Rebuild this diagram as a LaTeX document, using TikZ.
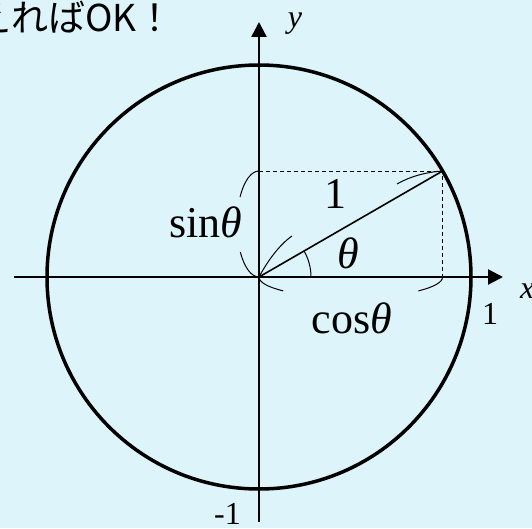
\documentclass[tikz,border=0pt]{standalone}
\usepackage{fontspec}
\setmainfont{Liberation Serif}
\newfontfamily\jpfont{Noto Sans CJK JP}
\usetikzlibrary{arrows.meta}
\definecolor{bgcol}{RGB}{221,244,250}
\tikzset{
  axis/.style={line width=2.5pt,-{Triangle[length=15pt,width=15pt]}},
  bracket/.style={line width=1pt},
  dashline/.style={line width=1pt,dash pattern=on 4pt off 3pt},
  biglabel/.style={font=\fontsize{44}{44}\selectfont,inner sep=0pt},
  smalllabel/.style={font=\fontsize{32}{32}\selectfont,inner sep=0pt}
}
\begin{document}
\begin{tikzpicture}[x=1pt,y=1pt]
\fill[bgcol] (-259,-251) rectangle (273,277);
\useasboundingbox (-259,-251) rectangle (273,277);
% points
\coordinate (O) at (0,0);
\coordinate (P) at (183.6,106);
\coordinate (Px) at (183.6,0);
\coordinate (Py) at (0,106);
\coordinate (xl) at (-245,0);
\coordinate (xr) at (244,0);
\coordinate (yb) at (0,-245);
\coordinate (yt) at (0,255);
% circle
\draw[line width=3.5pt] (O) circle (212);
% axes
\draw[axis] (xl) -- (xr);
\draw[axis] (yb) -- (yt);
% dashed
\draw[dashline] (Py) -- (P) -- (Px);
% radius
\draw[line width=1.6pt] (O) -- (P);
% angle arc
\draw[bracket] (52,0) arc[start angle=0,end angle=30,radius=52];
% sin bracket (ellipse centre (0,53), a=22, b=53)
\draw[bracket] (Py) arc[start angle=90,end angle=149.4,x radius=22,y radius=53];
\draw[bracket] (0,53) ++(211.9:22 and 53) arc[start angle=211.9,end angle=270,x radius=22,y radius=53];
% cos bracket (ellipse centre (91.8,0), a=91.8, b=20.5)
\draw[bracket] (O) arc[start angle=180,end angle=222.6,x radius=91.8,y radius=20.5];
\draw[bracket] (Px) arc[start angle=0,end angle=-42.6,x radius=91.8,y radius=20.5];
% hypotenuse bracket pieces
\draw[bracket] (O) .. controls (8,15) and (20,32) .. (33,41);
\draw[bracket] (138,93) .. controls (152,101) and (168,105) .. (P);
% labels
\node[biglabel,anchor=base] (sinl) at (-53,40) {sin\textit{θ}};
\node[biglabel,anchor=base] (onel) at (76,69) {1};
\node[biglabel,anchor=base] (thl) at (89,9) {\textit{θ}};
\node[biglabel,anchor=base] (cosl) at (93,-56) {cos\textit{θ}};
\node[smalllabel,anchor=base] (oneax) at (231,-47) {1};
\node[smalllabel,anchor=base east] (mone) at (-18,-247) {-1};
\node[smalllabel,anchor=base] (ylab) at (36,249) {\textit{y}};
\node[smalllabel,anchor=base west] (xlab) at (261,-21) {\textit{x}};
\node[inner sep=0pt,anchor=base east,font=\jpfont\fontsize{37}{37}\selectfont] (jp) at (-85,245) {えればOK！};
\end{tikzpicture}
\end{document}
